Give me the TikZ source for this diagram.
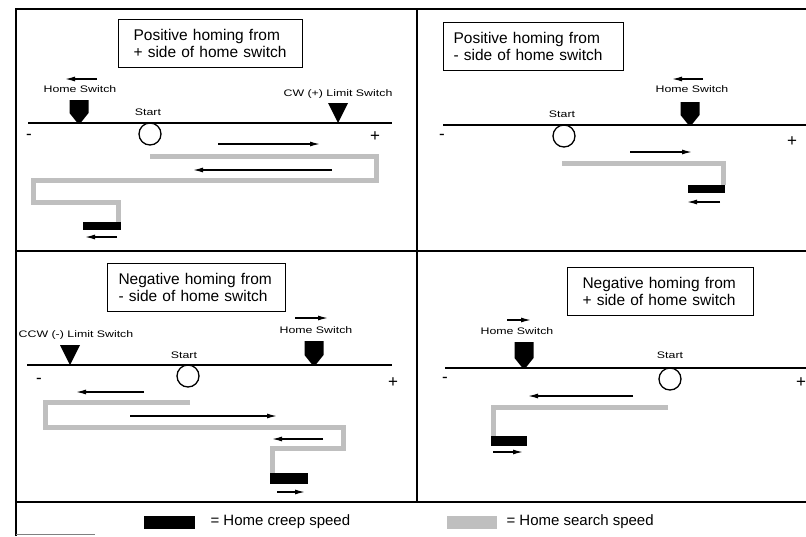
\documentclass[tikz,border=0pt]{standalone}
\usepackage{fontspec}
\setmainfont{Liberation Sans}
\newfontfamily\widefont[FakeStretch=1.3]{Liberation Sans}
\usetikzlibrary{arrows.meta,positioning}

\begin{document}
\begin{tikzpicture}[x=1pt,y=-1pt,
    frame/.style={line width=1.8pt},
    axis/.style={line width=1.2pt},
    title/.style={draw,line width=1.1pt,anchor=north west,align=left,minimum height=48pt,
      font=\fontsize{15.5}{17.5}\selectfont},
    tag/.style={font=\widefont\fontsize{9.5}{10}\selectfont,inner sep=0pt},
    sign/.style={font=\fontsize{17}{17}\selectfont,inner sep=0pt},
    dir/.style={line width=1.3pt,-{Latex[length=10pt,width=5pt]}},
    search/.style={draw=gray!50,line width=5pt},
    creep/.style={fill=black},
    start/.style={draw,line width=1.3pt,circle,minimum size=22pt,inner sep=0pt}]
  \useasboundingbox (0,0) rectangle (806,536);

  % Frame
  \draw[frame] (16,536) -- (16,9) -- (806,9);
  \draw[frame] (417,9) -- (417,502);
  \draw[frame] (16,251) -- (806,251);
  \draw[frame] (16,502) -- (806,502);
  \draw[gray,thin] (16,534) -- (95,534);

  % Positive homing from + side
  \node[title,text width=154pt,inner xsep=15pt] (titleA) at (118,19)
    {Positive homing from\\+ side of home switch};
  \draw[axis] (28,123) -- (392,123);
  \node[sign] (minusA) at (29,137) {-};
  \node[sign] (plusA) at (375,137) {+};
  \fill (69.5,100) -- ++(19,0) -- ++(0,13) -- ++(-8,10) -- ++(-3,0) -- ++(-8,-10) -- cycle;
  \node[tag] (homeA) at (80,89) {Home Switch};
  \draw[dir] (97,79) -- (65,79);
  \fill (328,103) -- ++(20,0) -- ++(-10,20) -- cycle;
  \node[tag] (limitA) at (338,94) {CW (+) Limit Switch};
  \node[tag] (labelA) at (148,112) {Start};
  \node[start] (startA) at (150,134) {};
  \draw[dir] (218,144) -- (320,144);
  \draw[search] (150,156) -- (376,156) -- (376,180) -- (33,180) -- (33,202) -- (118,202) -- (118,222);
  \draw[dir] (332,170) -- (193,170);
  \fill[creep] (83,222) rectangle (121,230);
  \draw[dir] (117,237) -- (85,237);

  % Positive homing from - side
  \node[title,text width=160pt,inner xsep=10pt] (titleB) at (443,22)
    {Positive homing from\\- side of home switch};
  \draw[axis] (443,125) -- (806,125);
  \node[sign] (minusB) at (442,137) {-};
  \node[sign] (plusB) at (792,142) {+};
  \fill (680.5,102) -- ++(19,0) -- ++(0,13) -- ++(-8,10) -- ++(-3,0) -- ++(-8,-10) -- cycle;
  \node[tag] (homeB) at (692,89) {Home Switch};
  \draw[dir] (703,79) -- (672,79);
  \node[tag] (labelB) at (562,114) {Start};
  \node[start] (startB) at (564,136) {};
  \draw[dir] (630,152) -- (692,152);
  \draw[search] (562,163) -- (723,163) -- (723,185);
  \fill[creep] (688,185) rectangle (725,193);
  \draw[dir] (720,202) -- (687,202);

  % Negative homing from - side
  \node[title,text width=156pt,inner xsep=11pt] (titleC) at (107,263)
    {Negative homing from\\- side of home switch};
  \draw[axis] (27,365) -- (392,365);
  \node[sign] (minusC) at (39,381) {-};
  \node[sign] (plusC) at (393,383) {+};
  \fill (60,345) -- ++(20,0) -- ++(-10,20) -- cycle;
  \node[tag] (limitC) at (76,335) {CCW (-) Limit Switch};
  \fill (304.5,341) -- ++(19,0) -- ++(0,14) -- ++(-8,10) -- ++(-3,0) -- ++(-8,-10) -- cycle;
  \node[tag] (homeC) at (316,330) {Home Switch};
  \draw[dir] (295,318) -- (328,318);
  \node[tag] (labelC) at (184,355) {Start};
  \node[start] (startC) at (188,376) {};
  \draw[dir] (144,392) -- (76,392);
  \draw[search] (190,402) -- (45,402) -- (45,427) -- (343,427) -- (343,448) -- (272,448) -- (272,473);
  \draw[dir] (130,416) -- (277,416);
  \draw[dir] (323,439) -- (272,439);
  \fill[creep] (270,473) rectangle (308,484);
  \draw[dir] (277,492) -- (305,492);

  % Negative homing from + side
  \node[title,text width=156pt,inner xsep=15pt] (titleD) at (567,267)
    {Negative homing from\\+ side of home switch};
  \draw[axis] (445,368) -- (806,368);
  \node[sign] (minusD) at (445,380) {-};
  \node[sign] (plusD) at (801,383) {+};
  \fill (514.5,342) -- ++(19,0) -- ++(0,16) -- ++(-8,10) -- ++(-3,0) -- ++(-8,-10) -- cycle;
  \node[tag] (homeD) at (517,331) {Home Switch};
  \draw[dir] (507,320) -- (531,320);
  \node[tag] (labelD) at (670,355) {Start};
  \node[start] (startD) at (670,379) {};
  \draw[dir] (633,396) -- (528,396);
  \draw[search] (668,407) -- (493,407) -- (493,436);
  \fill[creep] (491,436) rectangle (527,446);
  \draw[dir] (493,452) -- (523,452);

  % Legend
  \fill[creep] (144,516) rectangle (195,529);
  \node[anchor=west,font=\fontsize{15}{15}\selectfont] (keyCreep) at (207,522) {= Home creep speed};
  \fill[gray!50] (447,516) rectangle (497,529);
  \node[anchor=west,font=\fontsize{15}{15}\selectfont] (keySearch) at (503,522) {= Home search speed};
\end{tikzpicture}
\end{document}
